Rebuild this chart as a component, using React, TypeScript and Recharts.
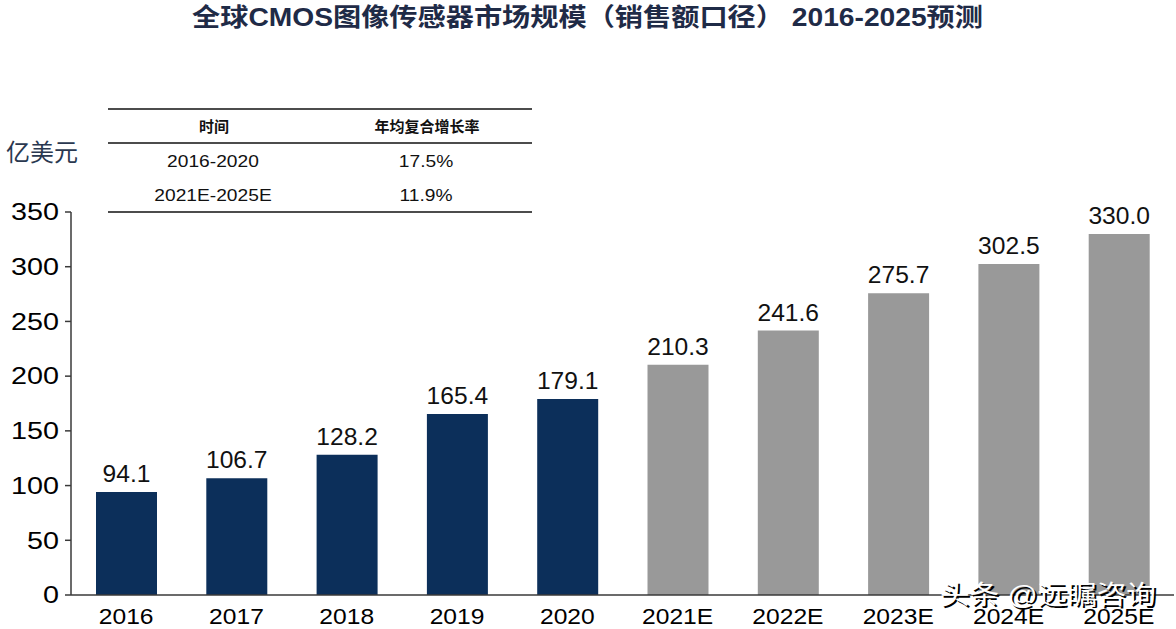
import React from "react";
import { BarChart, Bar, XAxis, YAxis, Cell, LabelList } from "recharts";

const years = ["2016", "2017", "2018", "2019", "2020", "2021E", "2022E", "2023E", "2024E", "2025E"];
const sales = [94.1, 106.7, 128.2, 165.4, 179.1, 210.3, 241.6, 275.7, 302.5, 330.0];
const yTicks = [0, 50, 100, 150, 200, 250, 300, 350];

const cagrHeader = ["时间", "年均复合增长率"];
const cagrPeriods = ["2016-2020", "2021E-2025E"];
const cagrRates = ["17.5%", "11.9%"];

const FONT = '"Liberation Sans", Arial, "Noto Sans CJK SC", sans-serif';
const NAVY = "#0c2f5a";
const GREY = "#999999";

const data = years.map((year, i) => ({ year, value: sales[i] }));

// the source picture is a bit wider than tall, so text gets a small horizontal stretch
const stretch = (x: number, sx: number) => `translate(${x},0) scale(${sx},1) translate(${-x},0)`;

const YTick = ({ x, y, payload }: any) => (
    <text x={x} y={y} dy="0.36em" textAnchor="end" fontSize={23} fill="#000" fontFamily={FONT} transform={stretch(x, 1.25)}>
        {payload.value}
    </text>
);

const XTick = ({ x, y, payload }: any) => (
    <text x={x} y={y} dy="0.71em" textAnchor="middle" fontSize={22} fill="#000" fontFamily={FONT} transform={stretch(x, 1.12)}>
        {payload.value}
    </text>
);

const ValueLabel = ({ x, y, width, value }: any) => {
    const cx = x + width / 2;
    return (
        <text x={cx} y={y - 10} textAnchor="middle" fontSize={23} fill="#111" fontFamily={FONT} transform={stretch(cx, 1.07)}>
            {Number(value).toFixed(1)}
        </text>
    );
};

export default function App() {
    return (
        <div style={{ position: "absolute", left: 0, top: 0, width: 1176, height: 629, background: "#fff", fontFamily: FONT }}>
            <BarChart width={1176} height={629} data={data} margin={{ top: 212, right: 2, left: 11, bottom: 4 }} barSize={61}>
                <XAxis
                    dataKey="year"
                    height={30}
                    interval={0}
                    axisLine={{ stroke: "#3a3a3a", strokeWidth: 1.5 }}
                    tickLine={false}
                    tickMargin={7}
                    tick={<XTick />}
                />
                <YAxis
                    width={60}
                    domain={[0, 350]}
                    ticks={yTicks}
                    allowDataOverflow
                    axisLine={{ stroke: "#3a3a3a", strokeWidth: 1.5 }}
                    tickLine={{ stroke: "#3a3a3a", strokeWidth: 1.5 }}
                    tickSize={6}
                    tickMargin={6}
                    tick={<YTick />}
                />
                <Bar dataKey="value" isAnimationActive={false}>
                    {data.map((d) => (
                        <Cell key={d.year} fill={d.year.endsWith("E") ? GREY : NAVY} />
                    ))}
                    <LabelList dataKey="value" content={<ValueLabel />} />
                </Bar>
            </BarChart>

            <svg width={1176} height={629} style={{ position: "absolute", left: 0, top: 0, pointerEvents: "none" }}>
                <text x={192} y={26} fontSize={25} fontWeight="bold" fill="#1f2b47" fontFamily={FONT} textLength={791} lengthAdjust="spacingAndGlyphs">
                    全球CMOS图像传感器市场规模（销售额口径） 2016-2025预测
                </text>

                <text x={6} y={161} fontSize={24} fill="#2a3850" fontFamily={FONT}>亿美元</text>

                {/* CAGR table */}
                <line x1={108} x2={532} y1={109} y2={109} stroke="#111" strokeWidth={1.5} />
                <line x1={108} x2={532} y1={143} y2={143} stroke="#111" strokeWidth={1.5} />
                <line x1={108} x2={532} y1={212} y2={212} stroke="#111" strokeWidth={1.5} />
                <text x={214} y={127} dy="0.36em" textAnchor="middle" fontSize={15} fontWeight="bold" fill="#111" fontFamily={FONT}>{cagrHeader[0]}</text>
                <text x={427} y={127} dy="0.36em" textAnchor="middle" fontSize={15} fontWeight="bold" fill="#111" fontFamily={FONT}>{cagrHeader[1]}</text>
                {cagrPeriods.map((p, i) => (
                    <g key={p}>
                        <text x={213} y={161 + i * 34} dy="0.36em" textAnchor="middle" fontSize={17} fill="#111" fontFamily={FONT} transform={stretch(213, 1.13)}>{p}</text>
                        <text x={426} y={161 + i * 34} dy="0.36em" textAnchor="middle" fontSize={17} fill="#111" fontFamily={FONT} transform={stretch(426, 1.13)}>{cagrRates[i]}</text>
                    </g>
                ))}

                {/* watermark */}
                <text x={942} y={606} fontSize={26} fill="#000" fontFamily={FONT} textLength={216} lengthAdjust="spacingAndGlyphs">头条 @远瞩咨询</text>
                <text x={940} y={604} fontSize={26} fill="#fff" fontFamily={FONT} textLength={216} lengthAdjust="spacingAndGlyphs">头条 @远瞩咨询</text>
            </svg>
        </div>
    );
}
